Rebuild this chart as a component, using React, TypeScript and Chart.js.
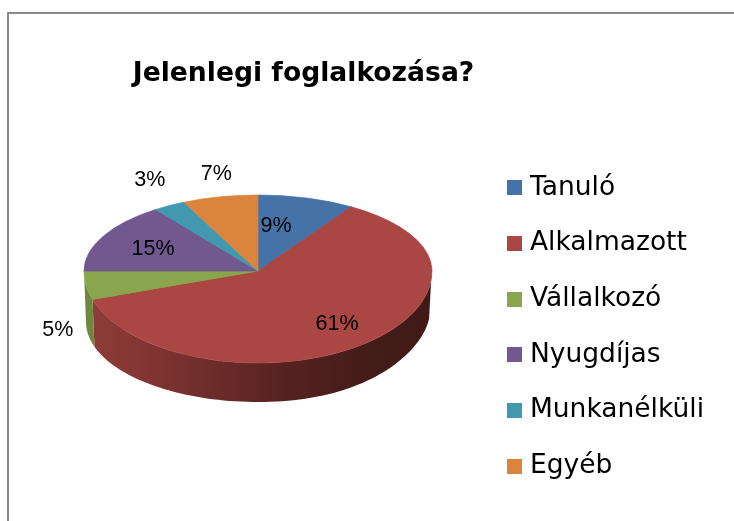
import React, { useEffect, useRef } from "react";
import { Chart, registerables } from "chart.js";

Chart.register(...registerables);

const categories = ["Tanuló", "Alkalmazott", "Vállalkozó", "Nyugdíjas", "Munkanélküli", "Egyéb"];
const shares = [9, 61, 5, 15, 3, 7];
const colors = ["#4572A7", "#AA4643", "#89A54E", "#71588F", "#4198AF", "#DB843D"];
const title = "Jelenlegi foglalkozása?";

// layout of the tilted pie
const APEX = { x: 258, y: 271 };
const RADIUS = 174;
const K_BACK = 76 / RADIUS;
const K_FRONT = 92 / RADIUS;
const BASE = { x: 258, y: 322, rx: 172, ry: 80, lift: -12 };
const labelNudge = [[-11, -1], [15, 9], [-97, 50], [-12, -1], [-55, -52], [-19, -52.5]];

function swatch(color: string) {
  const c = document.createElement("canvas");
  c.width = 15;
  c.height = 15;
  const g = c.getContext("2d")!;
  g.fillStyle = color;
  g.fillRect(0, 0, 15, 15);
  return c;
}

function tilt(ctx: CanvasRenderingContext2D, el: any, k: number) {
  ctx.translate(APEX.x, APEX.y);
  ctx.scale(1, k);
  ctx.translate(-el.x, -el.y);
}

function rimY(sin: number) {
  return APEX.y + RADIUS * sin * (sin > 0 ? K_FRONT : K_BACK);
}

function drawSide(chart: any) {
  const ctx: CanvasRenderingContext2D = chart.ctx;
  const arcs = chart.getDatasetMeta(0).data;
  const shades: Record<number, string[]> = {
    1: ["#8f3c39", "#7f3431", "#682a28", "#532120", "#451c1a", "#401a18"],
    2: ["#6f873f", "#6f873f", "#6f873f", "#6f873f", "#6f873f", "#6f873f"],
  };
  arcs.forEach((el: any, i: number) => {
    const a = Math.max(el.startAngle, 0.1);
    const b = Math.min(el.endAngle, Math.PI);
    if (b <= a) return;
    const g = ctx.createLinearGradient(88, 0, 432, 0);
    const stops = shades[i] || [colors[i], colors[i], colors[i], colors[i], colors[i], colors[i]];
    stops.forEach((s, j) => g.addColorStop(j / (stops.length - 1), s));
    ctx.beginPath();
    const n = 80;
    for (let s = 0; s <= n; s++) {
      const t = a + ((b - a) * s) / n;
      const x = APEX.x + RADIUS * Math.cos(t);
      const y = rimY(Math.sin(t));
      s === 0 ? ctx.moveTo(x, y) : ctx.lineTo(x, y);
    }
    for (let s = n; s >= 0; s--) {
      const t = a + ((b - a) * s) / n;
      const c = Math.cos(t);
      ctx.lineTo(
        BASE.x + BASE.rx * c,
        BASE.y + BASE.ry * Math.sin(t) + BASE.lift * Math.pow(Math.max(c, 0), 3)
      );
    }
    ctx.closePath();
    ctx.fillStyle = g;
    ctx.fill();
  });
}

const tiltedPie = {
  id: "tiltedPie",
  afterLayout(chart: any) {
    const t = chart.titleBlock;
    t.left = 0;
    t.right = 607;
    t.top = 58;
    const l = chart.legend;
    l.left = 483;
    l.right = 734;
    const h = l.bottom - l.top;
    l.top = 327 - h / 2;
    l.bottom = l.top + h;
  },
  beforeDatasetsDraw(chart: any) {
    const ctx: CanvasRenderingContext2D = chart.ctx;
    const meta = chart.getDatasetMeta(0);
    const el = meta.data[0];
    drawSide(chart);
    ctx.save();
    ctx.beginPath();
    ctx.rect(0, 0, chart.width, APEX.y);
    ctx.clip();
    tilt(ctx, el, K_BACK);
    meta.controller.draw();
    ctx.restore();
    ctx.save();
    ctx.beginPath();
    ctx.rect(0, APEX.y, chart.width, chart.height - APEX.y);
    ctx.clip();
    tilt(ctx, el, K_FRONT);
  },
  afterDatasetsDraw(chart: any) {
    const ctx: CanvasRenderingContext2D = chart.ctx;
    ctx.restore();
    const arcs = chart.getDatasetMeta(0).data;
    ctx.save();
    ctx.font = '21.5px "Liberation Sans"';
    ctx.fillStyle = "#000";
    ctx.textAlign = "center";
    ctx.textBaseline = "middle";
    arcs.forEach((el: any, i: number) => {
      const mid = (el.startAngle + el.endAngle) / 2;
      const x = APEX.x + 0.6 * RADIUS * Math.cos(mid) + labelNudge[i][0];
      const y = APEX.y + 0.6 * (rimY(Math.sin(mid)) - APEX.y) + labelNudge[i][1];
      ctx.fillText(`${shares[i]}%`, x, y);
    });
    ctx.restore();
  },
};

export default function App() {
  const ref = useRef<HTMLCanvasElement>(null);
  useEffect(() => {
    const chart = new Chart(ref.current!, {
      type: "pie",
      data: {
        labels: categories,
        datasets: [
          {
            data: shares,
            backgroundColor: colors,
            borderColor: colors,
            borderWidth: 1,
            clip: false,
          } as any,
        ],
      },
      plugins: [tiltedPie],
      options: {
        animation: false,
        responsive: false,
        radius: RADIUS,
        layout: { padding: 0 },
        plugins: {
          tooltip: { enabled: false },
          title: {
            display: true,
            text: title,
            color: "#000",
            padding: 0,
            font: { family: '"DejaVu Sans"', size: 26.6, weight: "bold" },
          },
          legend: {
            position: "right",
            labels: {
              usePointStyle: true,
              boxWidth: 4.5,
              boxHeight: 11,
              padding: 29.2,
              color: "#000",
              font: { family: '"DejaVu Sans"', size: 26.5 },
              generateLabels: () =>
                categories.map((text, i) => ({
                  text,
                  fillStyle: colors[i],
                  strokeStyle: colors[i],
                  lineWidth: 0,
                  pointStyle: swatch(colors[i]),
                  hidden: false,
                  index: i,
                })),
            },
          },
        },
      } as any,
    });
    return () => chart.destroy();
  }, []);
  return (
    <div style={{ position: "absolute", left: 0, top: 0, width: 734, height: 521, overflow: "hidden", background: "#fff" }}>
      <div style={{ position: "absolute", left: 7, top: 12, width: 800, height: 600, borderTop: "2px solid #8a8a8a", borderLeft: "2px solid #8a8a8a" }} />
      <canvas ref={ref} width={734} height={521} style={{ position: "absolute", left: 0, top: 0, display: "block" }} />
    </div>
  );
}
